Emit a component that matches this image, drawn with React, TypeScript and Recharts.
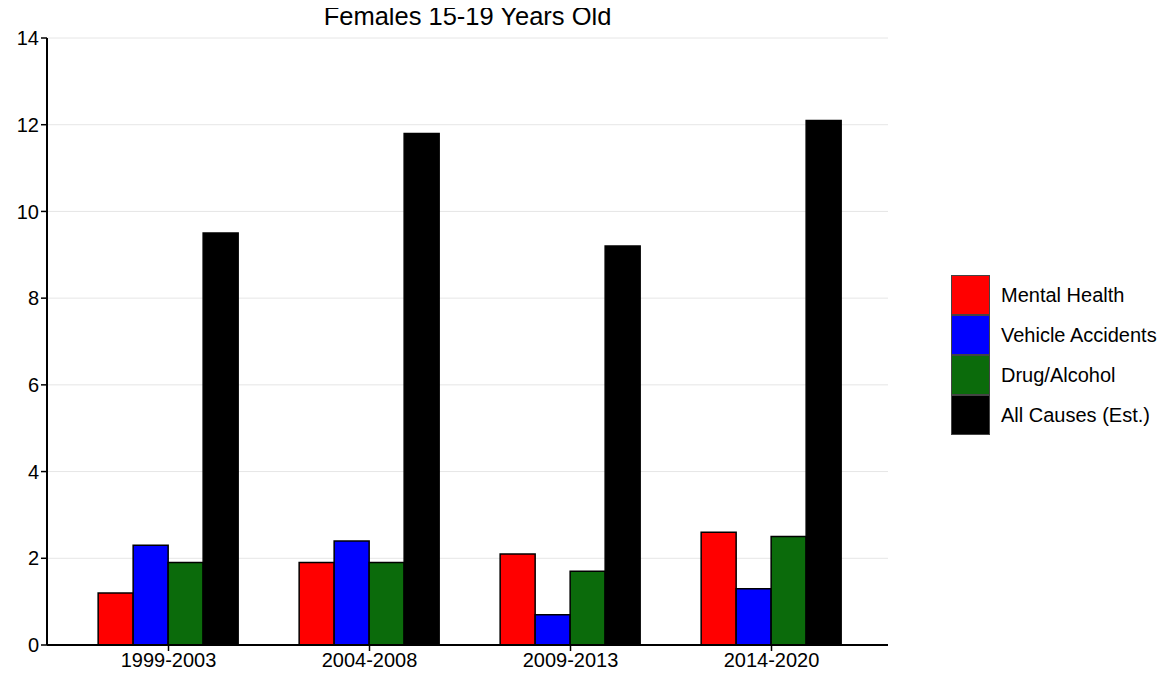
import React from 'react';
import { BarChart, Bar, XAxis, YAxis, CartesianGrid } from 'recharts';

const periods = ['1999-2003', '2004-2008', '2009-2013', '2014-2020'];
const mentalHealth = [1.2, 1.9, 2.1, 2.6];
const vehicleAccidents = [2.3, 2.4, 0.7, 1.3];
const drugAlcohol = [1.9, 1.9, 1.7, 2.5];
const allCauses = [9.5, 11.8, 9.2, 12.1];
const yTicks = [0, 2, 4, 6, 8, 10, 12, 14];

const series = [
  { key: 'mental', name: 'Mental Health', color: '#ff0000' },
  { key: 'vehicle', name: 'Vehicle Accidents', color: '#0000ff' },
  { key: 'drug', name: 'Drug/Alcohol', color: '#0b6b0b' },
  { key: 'all', name: 'All Causes (Est.)', color: '#000000' },
];

const chartData = periods.map((p, i) => ({
  period: p,
  mental: mentalHealth[i],
  vehicle: vehicleAccidents[i],
  drug: drugAlcohol[i],
  all: allCauses[i],
}));

const font = 'Arial, "Liberation Sans", Helvetica, sans-serif';

const App: React.FC = () => {
  return (
    <div style={{ position: 'relative', width: 1167, height: 693, margin: -8, background: '#fff', fontFamily: font }}>
      <BarChart
        width={1167}
        height={693}
        data={chartData}
        margin={{ top: 38, right: 279, left: 7, bottom: 18 }}
        barCategoryGap="15%"
        barGap={0}
      >
        <CartesianGrid vertical={false} stroke="#e6e6e6" strokeWidth={1} />
        <XAxis
          dataKey="period"
          height={30}
          padding={{ left: 21, right: 16 }}
          axisLine={{ stroke: '#000', strokeWidth: 2 }}
          tickLine={{ stroke: '#000', strokeWidth: 1.5 }}
          tickSize={6}
          tick={{ fill: '#000', fontSize: 20, fontFamily: font }}
        />
        <YAxis
          width={40}
          domain={[0, 14]}
          ticks={yTicks}
          axisLine={{ stroke: '#000', strokeWidth: 2 }}
          tickLine={{ stroke: '#000', strokeWidth: 1.5 }}
          tickSize={6}
          tick={{ fill: '#000', fontSize: 20, fontFamily: font }}
        />
        {series.map((s) => (
          <Bar
            key={s.key}
            dataKey={s.key}
            name={s.name}
            fill={s.color}
            stroke="#000"
            strokeWidth={1.5}
            isAnimationActive={false}
          />
        ))}
      </BarChart>
      <div
        style={{
          position: 'absolute',
          left: 47,
          width: 841,
          top: 1,
          height: 30,
          lineHeight: '30px',
          textAlign: 'center',
          fontSize: 25.5,
          color: '#000',
          zIndex: 2,
        }}
      >
        Females 15-19 Years Old
      </div>
      <div style={{ position: 'absolute', left: 951, top: 275, zIndex: 2 }}>
        {series.map((s) => (
          <div key={s.key} style={{ display: 'flex', alignItems: 'center', height: 40 }}>
            <div
              style={{
                width: 39,
                height: 40,
                background: s.color,
                border: '1.5px solid #444',
                boxSizing: 'border-box',
              }}
            />
            <span style={{ marginLeft: 11, fontSize: 20, color: '#000' }}>{s.name}</span>
          </div>
        ))}
      </div>
    </div>
  );
};

export default App;
